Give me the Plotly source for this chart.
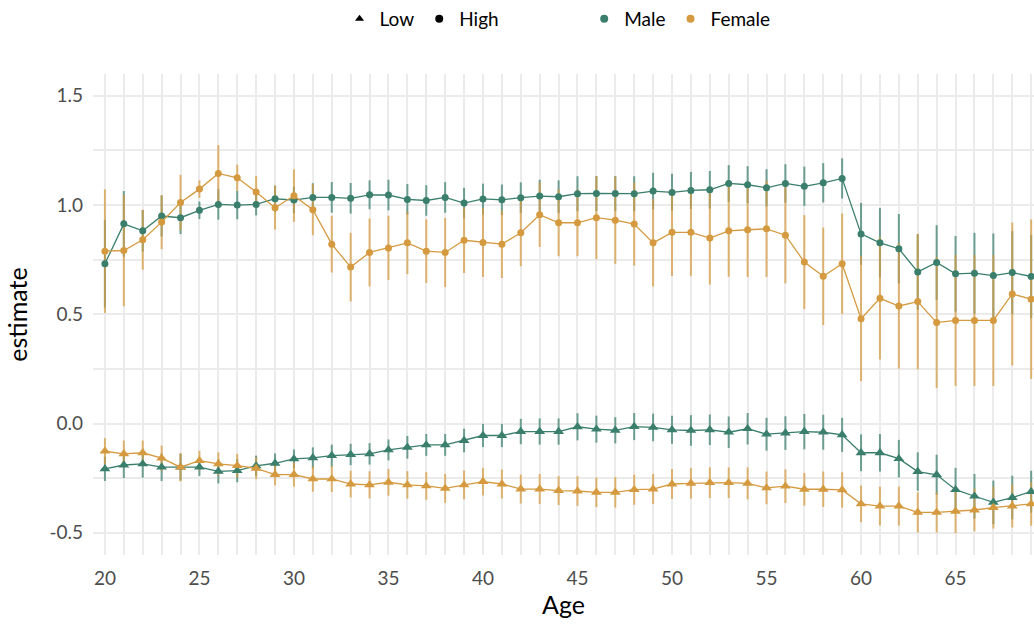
import plotly.graph_objects as go

ages = list(range(20, 70))

male_high = [0.731, 0.914, 0.882, 0.950, 0.942, 0.976, 1.003, 1.000, 1.003, 1.029,
             1.023, 1.035, 1.035, 1.031, 1.047, 1.046, 1.026, 1.021, 1.035, 1.009,
             1.028, 1.024, 1.034, 1.041, 1.038, 1.052, 1.053, 1.053, 1.052, 1.064,
             1.058, 1.067, 1.070, 1.099, 1.093, 1.079, 1.099, 1.086, 1.102, 1.122,
             0.868, 0.827, 0.800, 0.694, 0.737, 0.685, 0.688, 0.677, 0.691, 0.673]
male_high_err = [0.20, 0.15, 0.095, 0.094, 0.075, 0.04, 0.07, 0.065, 0.05, 0.06,
                 0.06, 0.065, 0.07, 0.07, 0.066, 0.07, 0.07, 0.07, 0.07, 0.07,
                 0.07, 0.07, 0.07, 0.075, 0.075, 0.08, 0.08, 0.08, 0.08, 0.084,
                 0.085, 0.085, 0.086, 0.084, 0.085, 0.085, 0.088, 0.09, 0.09, 0.092,
                 0.142, 0.159, 0.159, 0.173, 0.171, 0.173, 0.185, 0.193, 0.19, 0.19]

female_high = [0.789, 0.792, 0.841, 0.922, 1.012, 1.073, 1.145, 1.125, 1.060, 0.988,
               1.043, 0.979, 0.821, 0.716, 0.783, 0.804, 0.827, 0.789, 0.783, 0.839,
               0.829, 0.821, 0.873, 0.956, 0.919, 0.919, 0.942, 0.931, 0.913, 0.827,
               0.875, 0.875, 0.849, 0.882, 0.887, 0.891, 0.862, 0.739, 0.674, 0.731,
               0.480, 0.573, 0.538, 0.558, 0.462, 0.472, 0.472, 0.472, 0.593, 0.569]
female_high_err = [0.283, 0.255, 0.137, 0.124, 0.127, 0.04, 0.13, 0.06, 0.073, 0.10,
                   0.12, 0.117, 0.13, 0.157, 0.155, 0.147, 0.143, 0.146, 0.158, 0.15,
                   0.158, 0.155, 0.153, 0.148, 0.153, 0.153, 0.19, 0.20, 0.19, 0.20,
                   0.20, 0.20, 0.213, 0.21, 0.216, 0.22, 0.22, 0.215, 0.223, 0.23,
                   0.286, 0.28, 0.287, 0.31, 0.30, 0.30, 0.30, 0.30, 0.327, 0.365]

male_low = [-0.208, -0.190, -0.185, -0.200, -0.200, -0.200, -0.219, -0.216, -0.194, -0.182,
            -0.162, -0.157, -0.147, -0.142, -0.139, -0.121, -0.109, -0.098, -0.098, -0.078,
            -0.055, -0.055, -0.037, -0.037, -0.037, -0.015, -0.026, -0.031, -0.014, -0.018,
            -0.029, -0.032, -0.029, -0.040, -0.024, -0.049, -0.044, -0.037, -0.040, -0.052,
            -0.134, -0.134, -0.161, -0.220, -0.235, -0.303, -0.333, -0.361, -0.339, -0.312]
male_low_err = [0.055, 0.06, 0.063, 0.063, 0.061, 0.04, 0.055, 0.053, 0.047, 0.045,
                0.043, 0.048, 0.05, 0.049, 0.049, 0.048, 0.052, 0.05, 0.05, 0.054,
                0.053, 0.053, 0.058, 0.06, 0.06, 0.062, 0.062, 0.06, 0.062, 0.063,
                0.064, 0.07, 0.07, 0.072, 0.072, 0.075, 0.077, 0.081, 0.08, 0.078,
                0.084, 0.086, 0.086, 0.088, 0.092, 0.10, 0.102, 0.10, 0.10, 0.096]

female_low = [-0.127, -0.139, -0.134, -0.159, -0.200, -0.170, -0.185, -0.193, -0.205, -0.234,
              -0.234, -0.254, -0.254, -0.277, -0.281, -0.269, -0.281, -0.286, -0.297, -0.281,
              -0.266, -0.277, -0.300, -0.300, -0.307, -0.309, -0.315, -0.315, -0.303, -0.300,
              -0.277, -0.274, -0.271, -0.271, -0.274, -0.295, -0.287, -0.301, -0.301, -0.304,
              -0.368, -0.378, -0.378, -0.407, -0.407, -0.402, -0.396, -0.385, -0.378, -0.368]
female_low_err = [0.06, 0.061, 0.056, 0.058, 0.065, 0.045, 0.053, 0.054, 0.05, 0.049,
                  0.055, 0.058, 0.06, 0.061, 0.062, 0.061, 0.063, 0.063, 0.066, 0.066,
                  0.063, 0.066, 0.066, 0.069, 0.066, 0.068, 0.068, 0.07, 0.069, 0.069,
                  0.069, 0.07, 0.07, 0.07, 0.073, 0.075, 0.077, 0.075, 0.081, 0.081,
                  0.084, 0.089, 0.089, 0.092, 0.092, 0.10, 0.098, 0.096, 0.098, 0.10]

GREEN = "#3A7E6C"
ORANGE = "#D59A3F"
GREEN_BAR = "rgba(58,126,108,0.72)"
ORANGE_BAR = "rgba(213,154,63,0.72)"
FONT = "Lato"

fig = go.Figure()

male = [(male_high, male_high_err, "circle", 7), (male_low, male_low_err, "triangle-up", 9.5)]
female = [(female_high, female_high_err, "circle", 7), (female_low, female_low_err, "triangle-up", 9.5)]

# error bars first: male, then female on top
for group, barcol in [(male, GREEN_BAR), (female, ORANGE_BAR)]:
    for vals, errs, sym, sz in group:
        fig.add_trace(go.Scatter(
            x=ages, y=vals, mode="markers",
            marker=dict(size=1, opacity=0),
            error_y=dict(type="data", array=errs, visible=True, thickness=2,
                         width=0, color=barcol),
            showlegend=False, hoverinfo="skip",
        ))

# lines and points
for group, col in [(male, GREEN), (female, ORANGE)]:
    for vals, errs, sym, sz in group:
        fig.add_trace(go.Scatter(
            x=ages, y=vals, mode="lines+markers",
            line=dict(color=col, width=1.3),
            marker=dict(color=col, symbol=sym, size=sz),
            showlegend=False, hoverinfo="x+y",
        ))

# legend entries (shape)
for name, sym in [("Low", "triangle-up"), ("High", "circle")]:
    fig.add_trace(go.Scatter(x=[None], y=[None], mode="markers", name=name,
                             marker=dict(color="black", symbol=sym, size=8),
                             legend="legend"))
# legend entries (colour)
for name, col in [("Male", GREEN), ("Female", ORANGE)]:
    fig.add_trace(go.Scatter(x=[None], y=[None], mode="markers", name=name,
                             marker=dict(color=col, symbol="circle", size=8),
                             legend="legend2"))

grid_col = "#EBEBEB"
fig.update_layout(
    width=1034, height=627,
    paper_bgcolor="white", plot_bgcolor="white",
    margin=dict(l=93, r=0, t=73, b=72),
    font=dict(family=FONT, color="#4D4D4D", size=18),
    xaxis=dict(
        range=[19.37, 69.15], tickmode="array",
        tickvals=[20, 25, 30, 35, 40, 45, 50, 55, 60, 65],
        ticks="", showline=False, zeroline=False,
        showgrid=True, gridcolor=grid_col, gridwidth=2,
        minor=dict(dtick=1, tick0=0, showgrid=True, gridcolor=grid_col, gridwidth=2),
        tickfont=dict(size=19, color="#4D4D4D", family=FONT),
        ticklabelstandoff=10,
        title=dict(text="Age", font=dict(size=25, color="black", family=FONT), standoff=6),
    ),
    yaxis=dict(
        range=[-0.602, 1.6], tickmode="array",
        tickvals=[-0.5, 0.0, 0.5, 1.0, 1.5], ticktext=["-0.5", "0.0", "0.5", "1.0", "1.5"],
        ticks="", showline=False, zeroline=False,
        showgrid=True, gridcolor=grid_col, gridwidth=2,
        minor=dict(dtick=0.25, tick0=0, showgrid=True, gridcolor=grid_col, gridwidth=2),
        tickfont=dict(size=19, color="#4D4D4D", family=FONT),
        ticklabelstandoff=9,
        title=dict(text="estimate", font=dict(size=25, color="black", family=FONT), standoff=14),
    ),
    legend=dict(orientation="h", x=0.262, y=1.155, xanchor="left", yanchor="top",
                font=dict(size=19, color="black", family=FONT), bgcolor="rgba(0,0,0,0)",
                itemwidth=30),
    legend2=dict(orientation="h", x=0.522, y=1.155, xanchor="left", yanchor="top",
                 font=dict(size=19, color="black", family=FONT), bgcolor="rgba(0,0,0,0)",
                 itemwidth=30),
)

fig.write_html("out.html")
